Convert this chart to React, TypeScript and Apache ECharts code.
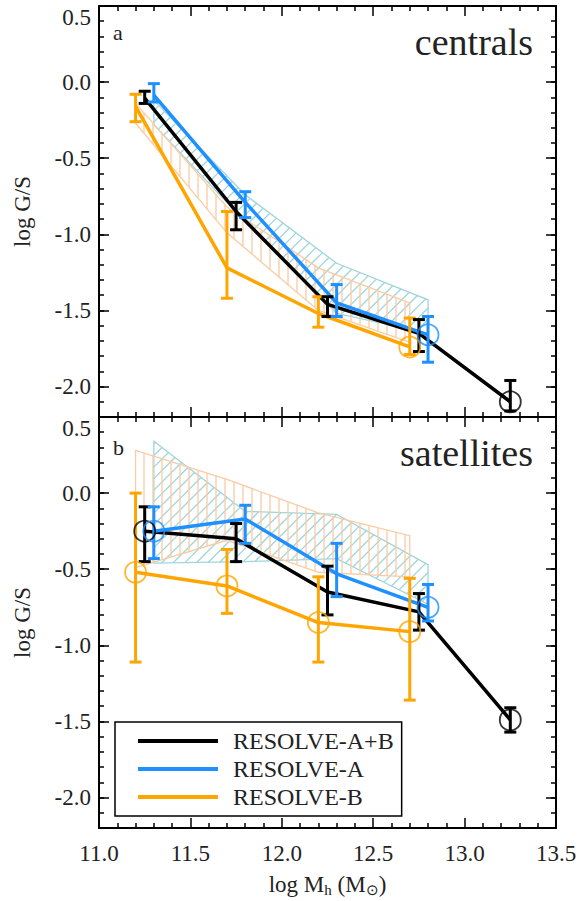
import React, { useEffect, useRef } from 'react';
import * as echarts from 'echarts';

// ---------- axes ----------
const X_MIN = 11.0;
const X_MAX = 13.5;
const X_STEP = 0.5;
const Y_MIN = -2.2;
const Y_MAX = 0.5;

// ---------- panel a : centrals ----------
const cenAllX = [11.25, 11.75, 12.25, 12.75, 13.25];
const cenAllY = [-0.105, -0.85, -1.46, -1.65, -2.1];
const cenAllLo = [-0.14, -0.97, -1.54, -1.77, -2.16];
const cenAllHi = [-0.06, -0.79, -1.41, -1.56, -1.96];
const cenAllCircle = [false, false, false, false, true];

const cenAX = [11.3, 11.8, 12.3, 12.8];
const cenAY = [-0.085, -0.79, -1.45, -1.66];
const cenALo = [-0.13, -0.89, -1.54, -1.84];
const cenAHi = [-0.01, -0.72, -1.33, -1.54];
const cenACircle = [false, false, false, true];

const cenBX = [11.2, 11.7, 12.2, 12.7];
const cenBY = [-0.16, -1.22, -1.52, -1.74];
const cenBLo = [-0.26, -1.42, -1.61, -1.79];
const cenBHi = [-0.08, -0.85, -1.41, -1.55];
const cenBCircle = [false, false, false, true];

// hatched model ranges (centrals)
const cenHatchAX = [11.3, 11.8, 12.3, 12.8];
const cenHatchAUp = [-0.12, -0.74, -1.19, -1.43];
const cenHatchALo = [-0.28, -0.92, -1.52, -1.65];
const cenHatchBX = [11.2, 11.7, 12.2, 12.7];
const cenHatchBUp = [-0.14, -0.82, -1.22, -1.45];
const cenHatchBLo = [-0.27, -0.99, -1.5, -1.71];

// ---------- panel b : satellites ----------
const satAllX = [11.25, 11.75, 12.25, 12.75, 13.25];
const satAllY = [-0.25, -0.3, -0.65, -0.78, -1.49];
const satAllLo = [-0.45, -0.45, -0.8, -0.9, -1.57];
const satAllHi = [-0.09, -0.2, -0.48, -0.66, -1.41];
const satAllCircle = [true, false, false, false, true];

const satAX = [11.3, 11.8, 12.3, 12.8];
const satAY = [-0.25, -0.17, -0.53, -0.75];
const satALo = [-0.43, -0.33, -0.68, -0.84];
const satAHi = [-0.09, -0.08, -0.33, -0.6];
const satACircle = [true, false, false, true];

const satBX = [11.2, 11.7, 12.2, 12.7];
const satBY = [-0.52, -0.61, -0.85, -0.91];
const satBLo = [-1.11, -0.79, -1.11, -1.36];
const satBHi = [0.0, -0.37, -0.55, -0.56];
const satBCircle = [true, true, true, true];

// hatched model ranges (satellites)
const satHatchAX = [11.3, 11.8, 12.3, 12.8];
const satHatchAUp = [0.34, -0.12, -0.14, -0.47];
const satHatchALo = [-0.46, -0.45, -0.43, -0.73];
const satHatchBX = [11.2, 11.7, 12.2, 12.7];
const satHatchBUp = [0.28, 0.09, -0.13, -0.28];
const satHatchBLo = [-0.49, -0.31, -0.52, -0.55];

const NAME_ALL = 'RESOLVE-A+B';
const NAME_A = 'RESOLVE-A';
const NAME_B = 'RESOLVE-B';
const PANEL_TITLES = ['centrals', 'satellites'];
const PANEL_LETTERS = ['a', 'b'];

const C_ALL = '#000000';
const C_A = '#1E90FF';
const C_B = '#FFA500';
const C_HATCH_A = '#9fd6dc';
const C_HATCH_B = '#fbcba3';

const FONT = 'Liberation Serif';
const TXT = '#222222';

// ---------- layout ----------
const GL = 99;
const GW = 457;
const GT = [6, 417];
const GH = 411;

function hatchSegments(poly: number[][], nx: number, ny: number, spacing: number) {
  const proj = poly.map((p) => nx * p[0] + ny * p[1]);
  const cmin = Math.min(...proj);
  const cmax = Math.max(...proj);
  const dx = -ny;
  const dy = nx;
  const segs: number[][] = [];
  for (let c = Math.ceil(cmin / spacing) * spacing; c <= cmax; c += spacing) {
    const pts: number[][] = [];
    for (let i = 0; i < poly.length; i++) {
      const j = (i + 1) % poly.length;
      const fa = proj[i] - c;
      const fb = proj[j] - c;
      if ((fa < 0 && fb >= 0) || (fa >= 0 && fb < 0)) {
        const t = fa / (fa - fb);
        const a = poly[i];
        const b = poly[j];
        pts.push([a[0] + t * (b[0] - a[0]), a[1] + t * (b[1] - a[1])]);
      }
    }
    pts.sort((p, q) => p[0] * dx + p[1] * dy - (q[0] * dx + q[1] * dy));
    for (let k = 0; k + 1 < pts.length; k += 2) {
      segs.push([pts[k][0], pts[k][1], pts[k + 1][0], pts[k + 1][1]]);
    }
  }
  return segs;
}

function hatchSeries(panel: number, xs: number[], up: number[], lo: number[], color: string, kind: 'v' | 'd') {
  return {
    type: 'custom',
    xAxisIndex: panel * 2,
    yAxisIndex: panel * 4,
    silent: true,
    clip: false,
    z: 1,
    data: [[xs[0], up[0]]],
    renderItem: (_params: any, api: any) => {
      const upper = xs.map((x, i) => api.coord([x, up[i]]));
      const lower = xs.map((x, i) => api.coord([x, lo[i]])).reverse();
      const poly = upper.concat(lower);
      const segs = kind === 'v' ? hatchSegments(poly, 1, 0, 9) : hatchSegments(poly, 1, 1, 11.5);
      const children: any[] = [
        {
          type: 'polygon',
          shape: { points: poly },
          style: { fill: 'none', stroke: color, lineWidth: 1.3 },
        },
      ];
      segs.forEach((s) => {
        children.push({
          type: 'line',
          shape: { x1: s[0], y1: s[1], x2: s[2], y2: s[3] },
          style: { stroke: color, lineWidth: 1.3 },
        });
      });
      return { type: 'group', children };
    },
  };
}

function lineSeries(panel: number, name: string, xs: number[], ys: number[], color: string, z: number) {
  return {
    type: 'line',
    name,
    xAxisIndex: panel * 2,
    yAxisIndex: panel * 4,
    data: xs.map((x, i) => [x, ys[i]]),
    symbol: 'none',
    showSymbol: false,
    lineStyle: { color, width: 3.5 },
    itemStyle: { color },
    z,
    silent: true,
  };
}

function errSeries(panel: number, xs: number[], lo: number[], hi: number[], color: string, z: number) {
  return {
    type: 'custom',
    xAxisIndex: panel * 2,
    yAxisIndex: panel * 4,
    silent: true,
    clip: false,
    z,
    encode: { x: 0, y: [1, 2] },
    data: xs.map((x, i) => [x, lo[i], hi[i]]),
    renderItem: (_params: any, api: any) => {
      const x = api.value(0);
      const pb = api.coord([x, api.value(1)]);
      const pt = api.coord([x, api.value(2)]);
      const hw = 6;
      const st = { stroke: color, lineWidth: 3 };
      return {
        type: 'group',
        children: [
          { type: 'line', shape: { x1: pt[0], y1: pt[1], x2: pb[0], y2: pb[1] }, style: st },
          { type: 'line', shape: { x1: pt[0] - hw, y1: pt[1], x2: pt[0] + hw, y2: pt[1] }, style: st },
          { type: 'line', shape: { x1: pb[0] - hw, y1: pb[1], x2: pb[0] + hw, y2: pb[1] }, style: st },
        ],
      };
    },
  };
}

function circleSeries(panel: number, xs: number[], ys: number[], flags: boolean[], color: string, z: number) {
  return {
    type: 'scatter',
    xAxisIndex: panel * 2,
    yAxisIndex: panel * 4,
    silent: true,
    z,
    symbol: 'circle',
    symbolSize: 21,
    itemStyle: { color: 'rgba(0,0,0,0)', borderColor: color, borderWidth: 1.8 },
    data: xs.map((x, i) => [x, ys[i]]).filter((_, i) => flags[i]),
  };
}

const fmt = (v: number) => (Math.abs(v) < 1e-9 ? '0.0' : v.toFixed(1));

function xAxisCfg(gridIndex: number, position: string, showLabel: boolean) {
  return {
    type: 'value',
    gridIndex,
    position,
    min: X_MIN,
    max: X_MAX,
    interval: X_STEP,
    axisLine: { show: true, onZero: false, lineStyle: { color: '#000', width: 2 } },
    axisTick: { show: true, inside: true, length: 10, lineStyle: { color: '#000', width: 1.5 } },
    minorTick: { show: true, splitNumber: 5, length: 5, lineStyle: { color: '#000', width: 1.5 } },
    splitLine: { show: false },
    axisLabel: {
      show: showLabel,
      margin: 14,
      showMinLabel: true,
      showMaxLabel: true,
      fontFamily: FONT,
      fontSize: 23,
      color: TXT,
      formatter: fmt,
    },
  };
}

function yMajor(gridIndex: number, position: string, showLabel: boolean) {
  return {
    type: 'value',
    gridIndex,
    position,
    min: Y_MIN,
    max: Y_MAX,
    splitNumber: 5,
    minInterval: 0.5,
    maxInterval: 0.5,
    axisLine: { show: true, onZero: false, lineStyle: { color: '#000', width: 2 } },
    axisTick: { show: true, inside: true, length: 10, lineStyle: { color: '#000', width: 1.5 } },
    splitLine: { show: false },
    axisLabel: {
      show: showLabel,
      margin: 8,
      showMinLabel: false,
      showMaxLabel: true,
      verticalAlignMaxLabel: 'top',
      fontFamily: FONT,
      fontSize: 23,
      color: TXT,
      formatter: fmt,
    },
  };
}

function yMinor(gridIndex: number, position: string) {
  return {
    type: 'value',
    gridIndex,
    position,
    min: Y_MIN,
    max: Y_MAX,
    interval: 0.1,
    axisLine: { show: false, onZero: false },
    axisTick: { show: true, inside: true, length: 5, lineStyle: { color: '#000', width: 1.5 } },
    axisLabel: { show: false },
    splitLine: { show: false },
  };
}

export default function App() {
  const ref = useRef<HTMLDivElement>(null);

  useEffect(() => {
    document.body.style.margin = '0';
    if (!ref.current) return;
    const chart = echarts.init(ref.current, null, { renderer: 'svg' });

    const series: any[] = [
      // panel a
      hatchSeries(0, cenHatchAX, cenHatchAUp, cenHatchALo, C_HATCH_A, 'd'),
      hatchSeries(0, cenHatchBX, cenHatchBUp, cenHatchBLo, C_HATCH_B, 'v'),
      lineSeries(0, NAME_B, cenBX, cenBY, C_B, 3),
      lineSeries(0, NAME_ALL, cenAllX, cenAllY, C_ALL, 4),
      lineSeries(0, NAME_A, cenAX, cenAY, C_A, 5),
      errSeries(0, cenBX, cenBLo, cenBHi, C_B, 6),
      errSeries(0, cenAllX, cenAllLo, cenAllHi, C_ALL, 6),
      errSeries(0, cenAX, cenALo, cenAHi, C_A, 6),
      circleSeries(0, cenBX, cenBY, cenBCircle, C_B, 7),
      circleSeries(0, cenAllX, cenAllY, cenAllCircle, C_ALL, 7),
      circleSeries(0, cenAX, cenAY, cenACircle, C_A, 7),
      // panel b
      hatchSeries(1, satHatchAX, satHatchAUp, satHatchALo, C_HATCH_A, 'd'),
      hatchSeries(1, satHatchBX, satHatchBUp, satHatchBLo, C_HATCH_B, 'v'),
      lineSeries(1, NAME_B, satBX, satBY, C_B, 3),
      lineSeries(1, NAME_ALL, satAllX, satAllY, C_ALL, 4),
      lineSeries(1, NAME_A, satAX, satAY, C_A, 5),
      errSeries(1, satBX, satBLo, satBHi, C_B, 6),
      errSeries(1, satAllX, satAllLo, satAllHi, C_ALL, 6),
      errSeries(1, satAX, satALo, satAHi, C_A, 6),
      circleSeries(1, satBX, satBY, satBCircle, C_B, 7),
      circleSeries(1, satAllX, satAllY, satAllCircle, C_ALL, 7),
      circleSeries(1, satAX, satAY, satACircle, C_A, 7),
    ];

    const graphic: any[] = [];
    [0, 1].forEach((p) => {
      graphic.push({
        type: 'text',
        x: 533,
        y: GT[p] + 36,
        z: 20,
        style: {
          text: PANEL_TITLES[p],
          align: 'right',
          verticalAlign: 'middle',
          font: '38px "Liberation Serif"',
          fill: TXT,
        },
      });
      graphic.push({
        type: 'text',
        x: 113,
        y: GT[p] + (p === 0 ? 26 : 30),
        z: 20,
        style: {
          text: PANEL_LETTERS[p],
          align: 'left',
          verticalAlign: 'middle',
          font: '22px "Liberation Serif"',
          fill: TXT,
        },
      });
      graphic.push({
        type: 'text',
        x: 22,
        y: GT[p] + GH / 2,
        rotation: Math.PI / 2,
        z: 20,
        style: {
          text: 'log G/S',
          align: 'center',
          verticalAlign: 'middle',
          font: '23px "Liberation Serif"',
          fill: TXT,
        },
      });
    });
    graphic.push({
      type: 'text',
      x: GL + GW / 2,
      y: 884,
      z: 20,
      style: {
        text: 'log M{sub|h} (M{sub|⊙})',
        align: 'center',
        verticalAlign: 'middle',
        font: '23px "Liberation Serif"',
        lineHeight: 26,
        fill: TXT,
        rich: {
          sub: { font: '15px "Liberation Serif"', lineHeight: 10, verticalAlign: 'bottom', fill: TXT },
        },
      },
    });

    chart.setOption({
      animation: false,
      backgroundColor: '#ffffff',
      grid: [
        { left: GL, top: GT[0], width: GW, height: GH, containLabel: false },
        { left: GL, top: GT[1], width: GW, height: GH, containLabel: false },
      ],
      xAxis: [
        xAxisCfg(0, 'bottom', false),
        xAxisCfg(0, 'top', false),
        xAxisCfg(1, 'bottom', true),
        xAxisCfg(1, 'top', false),
      ],
      yAxis: [
        yMajor(0, 'left', true),
        yMinor(0, 'left'),
        yMajor(0, 'right', false),
        yMinor(0, 'right'),
        yMajor(1, 'left', true),
        yMinor(1, 'left'),
        yMajor(1, 'right', false),
        yMinor(1, 'right'),
      ],
      legend: {
        data: [
          { name: NAME_ALL, icon: 'rect' },
          { name: NAME_A, icon: 'rect' },
          { name: NAME_B, icon: 'rect' },
        ],
        orient: 'vertical',
        left: 115,
        top: 722,
        padding: [7, 8, 7, 23],
        itemWidth: 80,
        itemHeight: 4,
        itemGap: 4,
        borderColor: '#000',
        borderWidth: 1.5,
        borderRadius: 0,
        backgroundColor: '#ffffff',
        selectedMode: false,
        z: 30,
        textStyle: { fontFamily: FONT, fontSize: 24, color: TXT, lineHeight: 20, padding: [0, 0, 0, 10] },
      },
      graphic,
      series,
    });

    return () => chart.dispose();
  }, []);

  return <div ref={ref} style={{ width: 581, height: 901 }} />;
}
